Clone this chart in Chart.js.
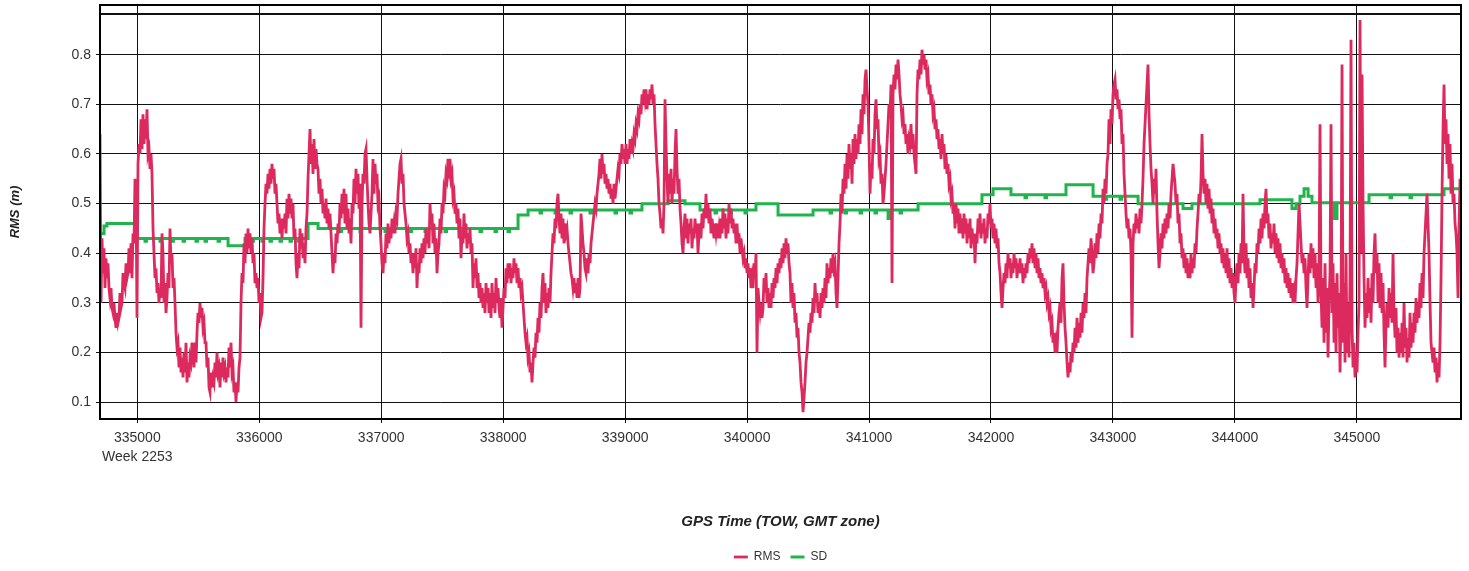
<!DOCTYPE html>
<html><head><meta charset="utf-8">
<script src="https://cdn.jsdelivr.net/npm/chart.js@4.4.1/dist/chart.umd.min.js"></script>
<style>html,body{margin:0;padding:0;background:#fff;}#wrap{width:1469px;height:571px;}</style>
</head><body><div id="wrap"><canvas id="c" width="1469" height="571"></canvas></div>
<script>
// ---------- data ----------
const xTicks = [335000,336000,337000,338000,339000,340000,341000,342000,343000,344000,345000];
const xMin = 334694, xMax = 345854;
const weekLabel = 'Week 2253';
const yTicks = [0.1,0.2,0.3,0.4,0.5,0.6,0.7,0.8];
const yMin = 0.0663, yMax = 0.9, yTopLine = 0.882;
const seriesNames = ['RMS','SD'];

// RMS epochs: first epoch and epoch interval (s)
const rmsEpoch0 = 334694, rmsEpochStep = 8.2;
const rms = [
0.64,0.30,0.43,0.36,0.41,0.33,0.39,0.35,0.38,0.33,
0.31,0.33,0.29,0.28,0.30,0.27,0.25,0.28,0.26,0.27,
0.32,0.29,0.30,0.36,0.34,0.33,0.38,0.35,0.36,0.41,
0.36,0.42,0.35,0.44,0.42,0.55,0.52,0.27,0.58,0.62,
0.60,0.67,0.61,0.68,0.62,0.67,0.63,0.69,0.60,0.61,
0.57,0.60,0.56,0.45,0.40,0.35,0.37,0.32,0.34,0.30,
0.33,0.31,0.44,0.40,0.30,0.34,0.28,0.31,0.36,0.33,
0.45,0.38,0.40,0.33,0.35,0.30,0.24,0.21,0.22,0.17,
0.21,0.16,0.19,0.15,0.20,0.16,0.22,0.14,0.18,0.15,
0.19,0.18,0.22,0.20,0.17,0.22,0.18,0.24,0.28,0.26,
0.30,0.27,0.29,0.25,0.26,0.22,0.22,0.17,0.19,0.13,
0.12,0.16,0.13,0.15,0.14,0.18,0.15,0.20,0.16,0.17,
0.13,0.18,0.15,0.19,0.16,0.17,0.14,0.17,0.15,0.21,
0.17,0.22,0.16,0.17,0.12,0.14,0.10,0.14,0.12,0.17,
0.19,0.30,0.36,0.34,0.42,0.38,0.44,0.40,0.45,0.41,
0.44,0.40,0.43,0.38,0.40,0.34,0.36,0.33,0.35,0.30,
0.32,0.27,0.28,0.35,0.45,0.50,0.54,0.52,0.56,0.53,
0.57,0.54,0.58,0.55,0.57,0.52,0.54,0.50,0.46,0.48,
0.44,0.47,0.43,0.47,0.45,0.48,0.44,0.51,0.47,0.52,
0.48,0.51,0.47,0.50,0.43,0.45,0.38,0.35,0.40,0.37,
0.45,0.41,0.44,0.39,0.42,0.38,0.45,0.48,0.55,0.60,
0.65,0.58,0.62,0.56,0.63,0.57,0.61,0.58,0.57,0.52,
0.55,0.50,0.53,0.48,0.50,0.47,0.51,0.46,0.49,0.45,
0.48,0.44,0.40,0.36,0.40,0.38,0.44,0.42,0.46,0.44,
0.50,0.47,0.52,0.48,0.53,0.46,0.52,0.45,0.49,0.44,
0.47,0.42,0.50,0.48,0.55,0.50,0.57,0.52,0.56,0.49,
0.54,0.25,0.50,0.56,0.54,0.60,0.61,0.55,0.50,0.46,
0.44,0.48,0.52,0.59,0.52,0.58,0.54,0.56,0.50,0.51,
0.45,0.42,0.38,0.36,0.40,0.38,0.44,0.41,0.46,0.42,
0.45,0.43,0.47,0.44,0.46,0.44,0.48,0.47,0.52,0.55,
0.58,0.59,0.54,0.56,0.50,0.48,0.46,0.43,0.44,0.40,
0.42,0.38,0.40,0.36,0.40,0.37,0.41,0.33,0.38,0.36,
0.41,0.38,0.42,0.39,0.43,0.40,0.45,0.42,0.44,0.41,
0.50,0.46,0.48,0.42,0.46,0.40,0.43,0.36,0.40,0.42,
0.47,0.44,0.50,0.48,0.53,0.52,0.56,0.55,0.59,0.57,
0.59,0.55,0.56,0.51,0.52,0.48,0.50,0.46,0.49,0.43,
0.47,0.39,0.44,0.42,0.48,0.43,0.46,0.41,0.44,0.42,
0.45,0.40,0.42,0.33,0.38,0.35,0.39,0.33,0.36,0.31,
0.34,0.30,0.33,0.29,0.32,0.28,0.34,0.30,0.33,0.28,
0.32,0.27,0.34,0.29,0.32,0.28,0.35,0.30,0.33,0.29,
0.27,0.31,0.25,0.29,0.33,0.31,0.37,0.34,0.38,0.35,
0.38,0.34,0.37,0.35,0.39,0.36,0.38,0.34,0.37,0.33,
0.35,0.32,0.33,0.30,0.27,0.24,0.22,0.23,0.19,0.20,
0.16,0.18,0.14,0.18,0.21,0.19,0.24,0.22,0.27,0.24,
0.30,0.27,0.33,0.36,0.30,0.34,0.28,0.32,0.29,0.33,
0.30,0.36,0.40,0.44,0.42,0.47,0.45,0.50,0.52,0.47,
0.44,0.48,0.43,0.47,0.42,0.46,0.44,0.45,0.42,0.40,
0.38,0.36,0.35,0.33,0.35,0.32,0.34,0.31,0.35,0.31,
0.33,0.48,0.45,0.42,0.40,0.37,0.36,0.39,0.36,0.40,
0.38,0.42,0.44,0.46,0.48,0.50,0.49,0.52,0.54,0.56,
0.59,0.55,0.60,0.56,0.58,0.54,0.56,0.53,0.55,0.52,
0.54,0.51,0.53,0.50,0.54,0.51,0.53,0.55,0.57,0.56,
0.60,0.58,0.62,0.59,0.61,0.58,0.62,0.58,0.61,0.59,
0.63,0.60,0.62,0.61,0.64,0.63,0.66,0.65,0.68,0.67,
0.70,0.68,0.72,0.70,0.73,0.71,0.73,0.69,0.72,0.70,
0.73,0.71,0.74,0.70,0.72,0.66,0.62,0.58,0.55,0.50,
0.48,0.45,0.47,0.44,0.50,0.71,0.62,0.55,0.50,0.56,
0.52,0.57,0.50,0.55,0.52,0.60,0.65,0.57,0.52,0.55,
0.49,0.46,0.42,0.40,0.45,0.48,0.43,0.47,0.42,0.46,
0.44,0.47,0.41,0.45,0.43,0.47,0.44,0.46,0.40,0.44,
0.46,0.43,0.48,0.45,0.49,0.47,0.52,0.47,0.50,0.46,
0.49,0.44,0.47,0.45,0.43,0.46,0.44,0.46,0.43,0.45,
0.43,0.47,0.44,0.49,0.45,0.48,0.43,0.47,0.44,0.50,
0.46,0.49,0.45,0.47,0.44,0.46,0.42,0.46,0.42,0.44,
0.40,0.43,0.41,0.39,0.40,0.37,0.39,0.36,0.38,0.35,
0.37,0.33,0.35,0.33,0.38,0.35,0.40,0.20,0.33,0.30,
0.28,0.30,0.27,0.29,0.35,0.32,0.36,0.30,0.33,0.29,
0.32,0.29,0.34,0.31,0.35,0.33,0.37,0.34,0.38,0.36,
0.39,0.37,0.41,0.38,0.42,0.39,0.43,0.40,0.42,0.38,
0.36,0.30,0.34,0.29,0.32,0.26,0.28,0.23,0.25,0.20,
0.18,0.14,0.12,0.08,0.11,0.14,0.18,0.20,0.23,0.26,
0.24,0.28,0.26,0.31,0.28,0.34,0.30,0.32,0.28,0.30,
0.27,0.32,0.29,0.33,0.30,0.35,0.31,0.38,0.34,0.37,
0.35,0.39,0.36,0.40,0.37,0.38,0.32,0.29,0.35,0.42,
0.46,0.52,0.48,0.55,0.52,0.58,0.53,0.60,0.55,0.62,
0.57,0.60,0.54,0.63,0.58,0.64,0.59,0.63,0.60,0.66,
0.62,0.69,0.64,0.72,0.68,0.75,0.77,0.73,0.70,0.62,
0.52,0.58,0.55,0.63,0.60,0.68,0.71,0.65,0.67,0.59,
0.60,0.54,0.56,0.50,0.52,0.55,0.58,0.62,0.66,0.70,
0.68,0.74,0.34,0.72,0.76,0.73,0.78,0.75,0.79,0.76,
0.72,0.70,0.67,0.68,0.64,0.66,0.62,0.64,0.60,0.63,
0.62,0.66,0.61,0.64,0.60,0.58,0.56,0.72,0.77,0.75,
0.79,0.76,0.81,0.78,0.80,0.77,0.79,0.75,0.76,0.72,
0.74,0.70,0.72,0.68,0.69,0.65,0.67,0.63,0.65,0.61,
0.63,0.59,0.64,0.60,0.62,0.57,0.60,0.56,0.58,0.54,
0.55,0.51,0.52,0.48,0.50,0.45,0.50,0.46,0.49,0.44,
0.48,0.44,0.47,0.43,0.48,0.44,0.47,0.42,0.46,0.43,
0.47,0.41,0.45,0.42,0.44,0.38,0.44,0.42,0.47,0.44,
0.48,0.43,0.46,0.44,0.47,0.42,0.45,0.43,0.48,0.46,
0.50,0.45,0.47,0.43,0.46,0.42,0.45,0.41,0.43,0.38,
0.36,0.32,0.29,0.33,0.36,0.34,0.38,0.35,0.40,0.37,
0.39,0.35,0.38,0.36,0.40,0.37,0.39,0.35,0.38,0.36,
0.39,0.36,0.38,0.34,0.37,0.35,0.38,0.36,0.40,0.38,
0.41,0.39,0.42,0.38,0.41,0.37,0.40,0.36,0.39,0.35,
0.37,0.34,0.36,0.33,0.35,0.32,0.33,0.30,0.31,0.28,
0.29,0.25,0.26,0.22,0.24,0.20,0.22,0.20,0.25,0.28,
0.30,0.26,0.35,0.38,0.30,0.25,0.22,0.18,0.15,0.18,
0.16,0.20,0.18,0.22,0.20,0.25,0.21,0.27,0.22,0.26,
0.23,0.28,0.24,0.30,0.27,0.32,0.28,0.35,0.38,0.41,
0.38,0.43,0.40,0.36,0.38,0.42,0.39,0.44,0.40,0.46,
0.43,0.48,0.46,0.53,0.50,0.55,0.52,0.58,0.60,0.67,
0.62,0.69,0.66,0.72,0.74,0.75,0.71,0.73,0.69,0.71,
0.67,0.69,0.62,0.64,0.56,0.52,0.48,0.45,0.47,0.43,
0.45,0.40,0.23,0.42,0.46,0.44,0.48,0.45,0.47,0.44,
0.49,0.46,0.50,0.55,0.62,0.66,0.70,0.74,0.78,0.68,
0.62,0.57,0.54,0.50,0.55,0.52,0.57,0.48,0.42,0.37,
0.40,0.44,0.41,0.46,0.43,0.47,0.44,0.48,0.45,0.50,
0.47,0.52,0.55,0.58,0.56,0.54,0.50,0.52,0.46,0.48,
0.42,0.44,0.39,0.41,0.37,0.40,0.36,0.39,0.35,0.38,
0.35,0.40,0.36,0.39,0.37,0.42,0.40,0.45,0.48,0.52,
0.50,0.55,0.64,0.56,0.52,0.55,0.50,0.54,0.49,0.53,
0.48,0.51,0.46,0.49,0.44,0.47,0.43,0.45,0.41,0.44,
0.40,0.42,0.38,0.41,0.37,0.40,0.36,0.41,0.35,0.39,
0.34,0.37,0.33,0.36,0.32,0.30,0.35,0.38,0.34,0.40,
0.36,0.42,0.38,0.52,0.40,0.36,0.42,0.35,0.39,0.33,
0.37,0.31,0.34,0.29,0.33,0.38,0.36,0.42,0.40,0.45,
0.42,0.47,0.43,0.48,0.45,0.50,0.53,0.46,0.48,0.43,
0.46,0.41,0.44,0.42,0.46,0.40,0.44,0.39,0.43,0.38,
0.42,0.37,0.40,0.36,0.39,0.34,0.37,0.33,0.36,0.32,
0.35,0.31,0.34,0.30,0.32,0.30,0.35,0.38,0.44,0.50,
0.46,0.42,0.38,0.40,0.36,0.39,0.33,0.29,0.35,0.40,
0.36,0.42,0.37,0.41,0.35,0.40,0.33,0.38,0.30,0.36,
0.66,0.32,0.25,0.35,0.22,0.38,0.24,0.33,0.19,0.30,
0.36,0.66,0.28,0.38,0.22,0.34,0.20,0.36,0.25,0.32,
0.16,0.28,0.78,0.22,0.34,0.18,0.40,0.20,0.30,0.19,
0.35,0.83,0.25,0.17,0.22,0.15,0.20,0.16,0.24,0.30,
0.87,0.40,0.76,0.50,0.35,0.25,0.32,0.27,0.35,0.28,
0.33,0.26,0.36,0.30,0.40,0.44,0.36,0.40,0.30,0.38,
0.29,0.36,0.28,0.34,0.24,0.17,0.26,0.30,0.25,0.33,
0.27,0.32,0.26,0.40,0.28,0.23,0.29,0.20,0.25,0.19,
0.24,0.20,0.26,0.19,0.30,0.21,0.25,0.18,0.23,0.19,
0.28,0.21,0.26,0.22,0.28,0.24,0.31,0.26,0.30,0.27,
0.34,0.29,0.36,0.31,0.40,0.44,0.48,0.52,0.46,0.40,
0.30,0.22,0.20,0.18,0.21,0.16,0.19,0.14,0.18,0.15,
0.22,0.35,0.52,0.65,0.74,0.62,0.67,0.58,0.64,0.55,
0.62,0.52,0.58,0.50,0.52,0.46,0.44,0.40,0.31,0.45,
0.55,0.52
];

// SD: step changes (TOW, value held until next change)
const sdTow = [
334694,334727,334751,334997,335063,335075,335186,335198,335284,335296,
335375,335387,335481,335494,335555,335567,335662,335674,335744,335883,
335940,335952,336022,336034,336088,336100,336170,336182,336252,336264,
336318,336330,336400,336482,336662,336674,336826,336838,337031,337043,
337236,337248,337359,337371,337523,337535,337646,337658,337810,337822,
337933,337945,338040,338052,338122,338204,338302,338314,338425,338437,
338548,338560,338712,338724,338917,338929,339040,339052,339138,339352,
339491,339614,339737,339749,339860,339872,339983,339995,340073,340254,
340541,340680,340692,340803,340815,340926,340938,341049,341061,341156,
341180,341254,341266,341402,341926,342017,342164,342279,342291,342443,
342455,342615,342837,342935,342947,343058,343070,343206,343575,343648,
344206,344468,344501,344534,344567,344600,344632,344813,344837,345100,
345272,345284,345436,345448,345715,345854
];
const sdVal = [
0.440,0.455,0.460,0.430,0.424,0.430,0.424,0.430,0.424,0.430,
0.424,0.430,0.424,0.430,0.424,0.430,0.424,0.430,0.415,0.430,
0.424,0.430,0.424,0.430,0.424,0.430,0.424,0.430,0.424,0.430,
0.424,0.430,0.460,0.450,0.444,0.450,0.444,0.450,0.444,0.450,
0.444,0.450,0.444,0.450,0.444,0.450,0.444,0.450,0.444,0.450,
0.444,0.450,0.444,0.450,0.477,0.487,0.481,0.487,0.481,0.487,
0.481,0.487,0.481,0.487,0.481,0.487,0.481,0.487,0.500,0.506,
0.500,0.487,0.481,0.487,0.481,0.487,0.481,0.487,0.500,0.477,
0.487,0.481,0.487,0.481,0.487,0.481,0.487,0.481,0.487,0.470,
0.487,0.481,0.487,0.500,0.518,0.530,0.518,0.512,0.518,0.512,
0.518,0.538,0.515,0.509,0.515,0.509,0.515,0.500,0.490,0.500,
0.508,0.490,0.500,0.515,0.530,0.515,0.502,0.470,0.502,0.518,
0.512,0.518,0.512,0.518,0.530,0.530
];

// ---------- chart ----------
const FONT = '"Liberation Sans", Arial, Helvetica, sans-serif';
const rmsPoints = rms.map((v, i) => ({ x: rmsEpoch0 + i * rmsEpochStep, y: v }));
const sdPoints = sdTow.map((t, i) => ({ x: t, y: sdVal[i] }));

const framePlugin = {
  id: 'frame',
  afterDatasetsDraw(chart) {
    const { ctx, chartArea: a } = chart;
    ctx.save();
    ctx.strokeStyle = '#000';
    ctx.lineWidth = 2;
    ctx.strokeRect(a.left, a.top, a.right - a.left, a.bottom - a.top);
    ctx.restore();
  }
};

new Chart(document.getElementById('c'), {
  type: 'line',
  data: {
    datasets: [
      { label: seriesNames[0], data: rmsPoints, borderColor: '#dc2a5e', backgroundColor: '#dc2a5e',
        borderWidth: 2.8, pointRadius: 0, tension: 0 },
      { label: seriesNames[1], data: sdPoints, borderColor: '#1fb44c', backgroundColor: '#1fb44c',
        borderWidth: 3, pointRadius: 0, stepped: true }
    ]
  },
  options: {
    responsive: false, animation: false, devicePixelRatio: 1,
    layout: { padding: { left: 0, right: 8, top: 5, bottom: -2 } },
    plugins: {
      legend: {
        position: 'bottom', fullSize: false,
        labels: { usePointStyle: true, pointStyle: 'line', pointStyleWidth: 14, padding: 10,
                  color: '#333', font: { family: FONT, size: 12 } }
      },
      tooltip: { enabled: false }
    },
    scales: {
      x: {
        type: 'linear', min: xMin, max: xMax,
        afterBuildTicks: s => { s.ticks = xTicks.map(v => ({ value: v })); },
        afterFit: s => { s.height = 122; s.paddingLeft = 0; s.paddingRight = 0; },
        ticks: {
          autoSkip: false, maxRotation: 0, padding: 6, color: '#333',
          font: { family: FONT, size: 14, lineHeight: 1.35 },
          callback: v => v === xTicks[0] ? [String(v), weekLabel] : String(v)
        },
        grid: { color: '#111', lineWidth: 1, tickLength: 4, tickColor: '#111' },
        border: { display: false },
        title: { display: true, text: 'GPS Time (TOW, GMT zone)', color: '#222',
                 font: { family: FONT, size: 15, style: 'italic', weight: 'bold' },
                 padding: { top: 0, bottom: 10 } }
      },
      y: {
        min: yMin, max: yMax,
        afterBuildTicks: s => { s.ticks = yTicks.concat([yTopLine]).map(v => ({ value: v })); },
        afterFit: s => { s.width = 100; s.paddingTop = 0; s.paddingBottom = 0; },
        ticks: {
          padding: 5, color: '#333', font: { family: FONT, size: 14 },
          callback: v => yTicks.includes(v) ? v.toFixed(1) : ''
        },
        grid: {
          color: '#111',
          lineWidth: c => (c.tick && c.tick.value === yTopLine) ? 2 : 1,
          tickLength: 4,
          tickColor: c => (c.tick && c.tick.value === yTopLine) ? 'rgba(0,0,0,0)' : '#111'
        },
        border: { display: false },
        title: { display: true, text: 'RMS (m)', color: '#222',
                 font: { family: FONT, size: 13, style: 'italic', weight: 'bold' },
                 padding: { top: 8, bottom: 0 } }
      }
    }
  },
  plugins: [framePlugin]
});
</script>
</body></html>
